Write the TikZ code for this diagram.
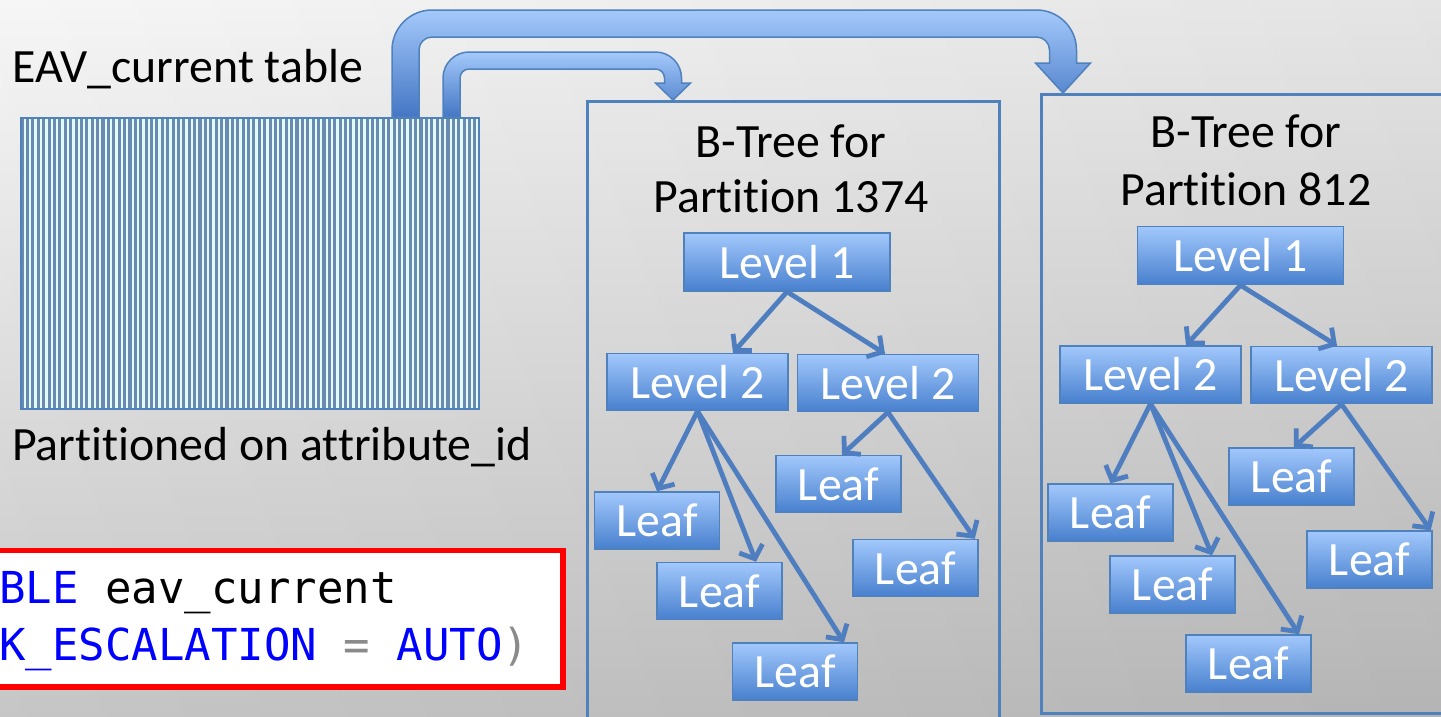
\documentclass[tikz,border=0pt]{standalone}
\usepackage{fontspec}
\setmainfont{Carlito}[Ligatures=NoCommon]
\setmonofont{DejaVu Sans Mono}
\usetikzlibrary{arrows.meta,calc}

\definecolor{bgtop}{HTML}{F6F6F6}
\definecolor{bgbot}{HTML}{C2C2C2}
\definecolor{frame}{HTML}{4F81BD}
\definecolor{boxtop}{HTML}{A2C8FC}
\definecolor{boxbot}{HTML}{4880CE}
\definecolor{arrowtop}{HTML}{A4C9FB}
\definecolor{arrowbot}{HTML}{4476C4}
\definecolor{stripedark}{HTML}{6B8AAF}
\definecolor{stripelight}{HTML}{E2FBFF}
\definecolor{linkblue}{HTML}{4E7EC0}
\definecolor{codeblue}{HTML}{0000FF}
\definecolor{codegray}{HTML}{8A8A8A}
\definecolor{codered}{HTML}{FF0000}

\begin{document}
\begin{tikzpicture}[x=1pt,y=-1pt,
  bigfont/.style={font=\fontsize{47.8}{54}\selectfont},
  treebox/.style={draw=frame, line width=1.5pt, top color=boxtop, bottom color=boxbot,
    text=white, bigfont, inner sep=0pt, minimum height=57pt},
  leafbox/.style={treebox, minimum width=125pt},
  lvtwo/.style={treebox, minimum width=181pt},
  lvone/.style={treebox, minimum width=206pt, minimum height=58pt},
  link/.style={draw=linkblue, line width=4.8pt,
    -{Straight Barb[length=11pt,width=25pt]}},
  caption/.style={bigfont, inner sep=0pt, anchor=base west},
  titleline/.style={bigfont, inner sep=0pt, anchor=base},
  treeframe/.style={draw=frame, line width=3pt, inner sep=0pt, anchor=north west},
  blockarrow/.style={draw=frame, line width=1.5pt, top color=arrowtop, bottom color=arrowbot},
  codeline/.style={font=\ttfamily\fontsize{44}{50}\selectfont, inner sep=0pt, anchor=base west},
]
\useasboundingbox (0,0) rectangle (1441,716);
\clip (0,0) rectangle (1441,716);

% background
\shade[top color=bgtop, bottom color=bgbot] (0,0) rectangle (1441,716);
\shade[left color=white, right color=black, opacity=0.07] (0,0) rectangle (1441,716);

% striped table
\fill[stripelight] (20,117) rectangle (478,408);
\foreach \i in {0,...,84}
  \fill[stripedark] ({20.6+\i*5.39},117) rectangle ({20.6+\i*5.39+3.1},408);
\node[draw=frame, line width=1.5pt, inner sep=0pt, minimum width=458pt,
  minimum height=291pt, anchor=north west] (table) at (20,117) {};

\node[caption] (tabname) at (12,82) {EAV\_current table};
\node[caption] (partnote) at (12,460) {Partitioned on attribute\_id};

% code box
\node[draw=codered, line width=5.5pt, fill=white, inner sep=0pt, minimum width=572pt,
  minimum height=136.5pt, anchor=north west] (codebox) at (-12,547.5) {};
\node[codeline] (code1) at (-1,603) {\textcolor{codeblue}{BLE} eav\_current};
\node[codeline] (code2) at (-1,660) {\textcolor{codeblue}{K\_ESCALATION} \textcolor{codegray}{=} \textcolor{codeblue}{AUTO}\textcolor{codegray}{)}};

% partition frames
\node[treeframe, minimum width=412pt, minimum height=660pt] (left) at (586,100) {};
\node[treeframe, minimum width=430pt, minimum height=619pt] (right) at (1040,93) {};

\node[titleline] (lt1) at (791,157) {B-Tree for};
\node[titleline] (lt2) at (791,212) {Partition 1374};
\node[titleline] (rt1) at (1246,147) {B-Tree for};
\node[titleline] (rt2) at (1246,205) {Partition 812};

% block arrows from the table to each B-tree
\coordinate (outerstart) at ($(table.north west)+(372,0)$);
\coordinate (innerstart) at ($(table.north west)+(423,0)$);
\path[blockarrow]
  (outerstart) -- (392,50)
  .. controls (392,27.91) and (409.91,10) .. (432,10)
  -- (1036.5,10)
  .. controls (1058.59,10) and (1076.5,27.91) .. (1076.5,50)
  -- (1076.5,63) -- (1090.5,63) -- ($(right.north west)+(23,0)$) -- (1035.5,63)
  -- (1049.5,63) -- (1049.5,50)
  .. controls (1049.5,42.82) and (1043.68,37) .. (1036.5,37)
  -- (432,37)
  .. controls (424.82,37) and (419,42.82) .. (419,50)
  -- ($(outerstart)+(27,0)$) -- cycle;
\path[blockarrow]
  (innerstart) -- (443,78)
  .. controls (443,63.64) and (454.64,52) .. (469,52)
  -- (655.5,52)
  .. controls (669.86,52) and (681.5,63.64) .. (681.5,78)
  -- (681.5,83) -- (690.5,83) -- ($(left.north west)+(87,0)$) -- (655.5,83)
  -- (664.5,83) -- (664.5,78)
  .. controls (664.5,73.03) and (660.47,69) .. (655.5,69)
  -- (469,69)
  .. controls (464.03,69) and (460,73.03) .. (460,78)
  -- ($(innerstart)+(17,0)$) -- cycle;

% B-tree for partition 1374
\node[lvone]   (a1) at (787,262)   {Level 1};
\node[lvtwo]   (a2) at (697.5,382) {Level 2};
\node[lvtwo]   (a3) at (888,383)   {Level 2};
\node[leafbox] (a4) at (657,520.5) {Leaf};
\node[leafbox] (a5) at (719.5,591) {Leaf};
\node[leafbox] (a6) at (795,671.5) {Leaf};
\node[leafbox] (a7) at (838.5,484) {Leaf};
\node[leafbox] (a8) at (915.5,568) {Leaf};

\draw[link] (a1.south) -- ([xshift=35.5pt]a2.north);
\draw[link] (a1.south) -- ([xshift=-3pt]a3.north);
\draw[link] (a2.south) -- (a4.north);
\draw[link] (a2.south) -- ([xshift=36.5pt]a5.north);
\draw[link] (a2.south) -- ([xshift=49pt]a6.north);
\draw[link] (a3.south) -- ([xshift=3.5pt]a7.north);
\draw[link] (a3.south) -- ([xshift=-4pt]a8.north east);

% B-tree for partition 812
\node[lvone]   (b1) at (1240.5,255.5) {Level 1};
\node[lvtwo]   (b2) at (1150.5,374.5) {Level 2};
\node[lvtwo]   (b3) at (1341.5,375)   {Level 2};
\node[leafbox] (b4) at (1110.5,512.5) {Leaf};
\node[leafbox] (b5) at (1172.5,584.5) {Leaf};
\node[leafbox] (b6) at (1248.5,663.5) {Leaf};
\node[leafbox] (b7) at (1291.5,476.5) {Leaf};
\node[leafbox] (b8) at (1369.5,559.5) {Leaf};

\draw[link] (b1.south) -- ([xshift=35.5pt]b2.north);
\draw[link] (b1.south) -- ([xshift=-4.5pt]b3.north);
\draw[link] (b2.south) -- (b4.north);
\draw[link] (b2.south) -- ([xshift=39.5pt]b5.north);
\draw[link] (b2.south) -- ([xshift=50.5pt]b6.north);
\draw[link] (b3.south) -- ([xshift=2.5pt]b7.north);
\draw[link] (b3.south) -- ([xshift=-2pt]b8.north east);
\end{tikzpicture}
\end{document}
